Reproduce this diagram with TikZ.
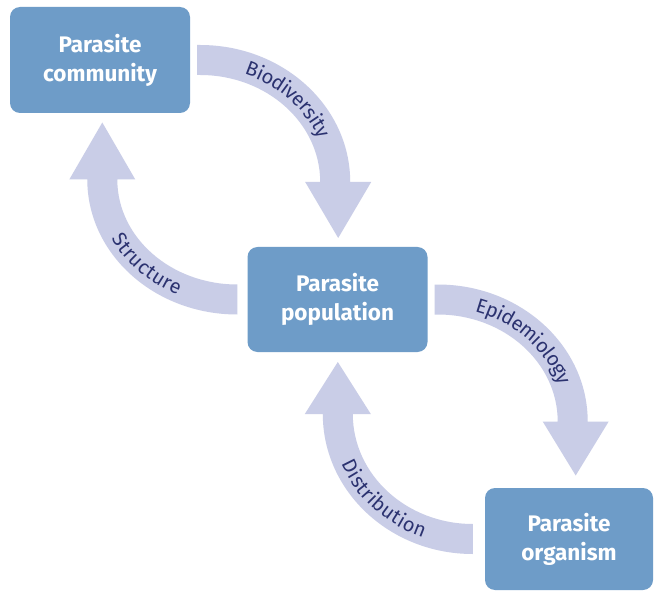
\documentclass[tikz,border=0pt]{standalone}
\usepackage{fontspec}
\setmainfont{Fira Sans}
\usetikzlibrary{decorations.text,calc}
\definecolor{boxblue}{HTML}{6E9CC8}
\definecolor{arrowfill}{HTML}{C9CDE7}
\definecolor{labelcol}{HTML}{2B3270}
\begin{document}
\begin{tikzpicture}[x=1pt,y=-1pt,
  level/.style={rectangle, rounded corners=10pt, fill=boxblue, text=white,
    font=\fontsize{22.5}{29}\selectfont\bfseries, align=center, inner sep=0pt},
  band/.style={fill=arrowfill},
  lbl/.style={decorate, decoration={text along path,
    text={|\color{labelcol}\fontsize{20}{22}\selectfont|#1},
    text align=center, raise=-7pt}}
]
\useasboundingbox (0,0) rectangle (654,591);
\fill[white] (0,0) rectangle (654,591);

\node[level, minimum width=180pt, minimum height=106pt] (comm) at (100,60) {Parasite\\community};
\node[level, minimum width=180pt, minimum height=105pt] (pop) at (337.5,299.5) {Parasite\\population};
\node[level, minimum width=168pt, minimum height=102pt] (org) at (569,539) {Parasite\\organism};

% Biodiversity: community -> population
\fill[band] ($(comm.east)+(7,-15)$) -- ++(3,0)
  arc[start angle=-90, end angle=0, x radius=150, y radius=137]
  -- ++(21,0) -- ++(-33,56) -- ++(-33,-56) -- ++(15,0)
  arc[start angle=0, end angle=-90, x radius=120, y radius=107]
  -- ++(-3,0) -- cycle;
\path[lbl=Biodiversity] ($(comm.east)+(10,0)$)
  arc[start angle=-90, end angle=0, x radius=135, y radius=122];

% Structure: population -> community
\fill[band] ($(pop.west)+(-10,15)$)
  arc[start angle=90, end angle=180, x radius=150, y radius=135]
  -- ++(-18,0) -- ++(33,-57) -- ++(33,57) -- ++(-18,0)
  arc[start angle=180, end angle=90, x radius=120, y radius=105]
  -- cycle;
\path[lbl=Structure] ($(pop.west)+(-145,-120)$)
  arc[start angle=180, end angle=90, x radius=135, y radius=120];

% Epidemiology: population -> organism
\fill[band] ($(pop.east)+(7,-15)$) -- ++(3,0)
  arc[start angle=-90, end angle=0, x radius=150, y radius=137]
  -- ++(21,0) -- ++(-33,54) -- ++(-33,-54) -- ++(15,0)
  arc[start angle=0, end angle=-90, x radius=120, y radius=107]
  -- ++(-3,0) -- cycle;
\path[lbl=Epidemiology] ($(pop.east)+(10,0)$)
  arc[start angle=-90, end angle=0, x radius=135, y radius=122];

% Distribution: organism -> population
\fill[band] ($(org.west)+(-12,15)$)
  arc[start angle=90, end angle=180, x radius=150, y radius=140]
  -- ++(-18,0) -- ++(33,-52) -- ++(33,52) -- ++(-18,0)
  arc[start angle=180, end angle=90, x radius=120, y radius=110]
  -- cycle;
\path[lbl=Distribution] ($(org.west)+(-147,-125)$)
  arc[start angle=180, end angle=90, x radius=135, y radius=125];
\end{tikzpicture}
\end{document}
